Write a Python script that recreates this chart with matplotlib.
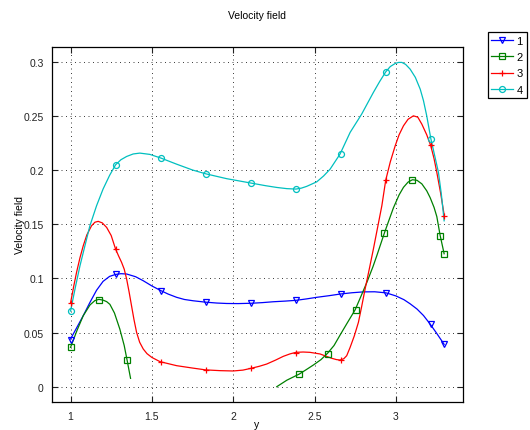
import matplotlib
matplotlib.use("Agg")
import matplotlib.pyplot as plt

plt.rcParams['font.family'] = ['Liberation Sans', 'DejaVu Sans']

# ---- data ----
# series 1 (blue)
x1 = [1.0, 1.04, 1.078, 1.12, 1.16, 1.2, 1.24, 1.277, 1.31, 1.345, 1.4, 1.447, 1.5, 1.556, 1.6,
      1.652, 1.7, 1.754, 1.831, 1.9, 1.96, 2.03, 2.111, 2.18, 2.247, 2.32, 2.386, 2.45, 2.514,
      2.59, 2.657, 2.73, 2.8, 2.87, 2.94, 3.0, 3.05, 3.088, 3.13, 3.17, 3.211, 3.25, 3.297]
y1 = [0.044, 0.055, 0.0655, 0.078, 0.089, 0.0972, 0.1018, 0.1036, 0.1043, 0.104, 0.1015, 0.0978,
      0.093, 0.0886, 0.0855, 0.0825, 0.0805, 0.0793, 0.0780, 0.0772, 0.0768, 0.0767, 0.0770,
      0.0776, 0.0784, 0.0790, 0.0797, 0.0810, 0.0825, 0.0840, 0.0855, 0.0867, 0.0875, 0.0876,
      0.0866, 0.0838, 0.0803, 0.0765, 0.0717, 0.0657, 0.0578, 0.0495, 0.0391]
mx1 = [1.0, 1.277, 1.556, 1.831, 2.111, 2.386, 2.66, 2.938, 3.215, 3.297]
my1 = [0.0434, 0.1037, 0.0883, 0.0779, 0.0769, 0.0800, 0.0852, 0.0864, 0.0578, 0.039]

# series 2 (green), two visible pieces
x2a = [1.0, 1.04, 1.078, 1.12, 1.15, 1.174, 1.2, 1.222, 1.242, 1.27, 1.303, 1.33, 1.348, 1.369]
y2a = [0.0363, 0.052, 0.0655, 0.0755, 0.0795, 0.0806, 0.0799, 0.0785, 0.0760, 0.068, 0.0532,
       0.038, 0.0243, 0.0077]
x2b = [2.268, 2.33, 2.407, 2.45, 2.493, 2.54, 2.58, 2.62, 2.657, 2.7, 2.75, 2.79, 2.822, 2.86,
       2.883, 2.93, 2.985, 3.02, 3.047, 3.075, 3.102, 3.13, 3.16, 3.19, 3.211, 3.235, 3.252,
       3.272, 3.297]
y2b = [0.0, 0.006, 0.0117, 0.0158, 0.020, 0.025, 0.0308, 0.038, 0.0476, 0.0585, 0.071, 0.085,
       0.0963, 0.111, 0.1209, 0.142, 0.165, 0.177, 0.184, 0.1888, 0.191, 0.1905, 0.1872, 0.1808,
       0.1745, 0.1655, 0.1570, 0.1400, 0.1227]
mx2 = [1.0, 1.174, 1.348, 2.407, 2.58, 2.754, 2.93, 3.102, 3.272, 3.297]
my2 = [0.0363, 0.0803, 0.0243, 0.0117, 0.0303, 0.071, 0.1418, 0.191, 0.1393, 0.1227]

# series 3 (red)
x3 = [1.0, 1.02, 1.037, 1.058, 1.078, 1.1, 1.129, 1.15, 1.17, 1.195, 1.222, 1.25, 1.277, 1.296,
      1.314, 1.33, 1.345, 1.36, 1.375, 1.39, 1.406, 1.425, 1.447, 1.47, 1.5, 1.55, 1.652, 1.75,
      1.831, 1.92, 2.0, 2.06, 2.111, 2.16, 2.206, 2.26, 2.308, 2.35, 2.386, 2.43, 2.472, 2.534,
      2.606, 2.635, 2.657, 2.68, 2.698, 2.719, 2.745, 2.77, 2.79, 2.811, 2.836, 2.862, 2.888,
      2.914, 2.938, 2.966, 2.996, 3.02, 3.047, 3.075, 3.108, 3.135, 3.16, 3.19, 3.215, 3.235,
      3.252, 3.275, 3.297]
y3 = [0.0772, 0.093, 0.1055, 0.119, 0.130, 0.140, 0.1485, 0.1518, 0.1526, 0.1512, 0.147,
      0.1395, 0.127, 0.1205, 0.1147, 0.1085, 0.0993, 0.0875, 0.0747, 0.0620, 0.0502, 0.0410,
      0.0348, 0.0305, 0.027, 0.0231, 0.0194, 0.0172, 0.0155, 0.0148, 0.0145, 0.0153, 0.017,
      0.0188, 0.0209, 0.0245, 0.028, 0.0303, 0.0317, 0.0320, 0.0317, 0.0302, 0.0262, 0.0250,
      0.0246, 0.0258, 0.0286, 0.0363, 0.0470, 0.0594, 0.0740, 0.0901, 0.108, 0.127, 0.147,
      0.167, 0.1907, 0.2075, 0.2223, 0.2325, 0.2408, 0.2468, 0.25, 0.2488, 0.2423, 0.2325,
      0.2223, 0.2105, 0.1978, 0.1790, 0.1587]
mx3 = [1.0, 1.277, 1.556, 1.831, 2.111, 2.386, 2.66, 2.938, 3.215, 3.297]
my3 = [0.0772, 0.1273, 0.023, 0.0157, 0.017, 0.0308, 0.0249, 0.1907, 0.2232, 0.158]

# series 4 (cyan)
x4 = [1.0, 1.03, 1.058, 1.09, 1.119, 1.16, 1.2, 1.24, 1.277, 1.31, 1.345, 1.385, 1.426, 1.488,
      1.556, 1.652, 1.75, 1.831, 1.96, 2.111, 2.2, 2.268, 2.33, 2.386, 2.42, 2.452, 2.514,
      2.556, 2.596, 2.657, 2.719, 2.79, 2.862, 2.9, 2.938, 2.966, 2.996, 3.017, 3.037, 3.06,
      3.088, 3.12, 3.15, 3.17, 3.19, 3.215, 3.24, 3.262, 3.28, 3.297]
y4 = [0.0698, 0.092, 0.1116, 0.131, 0.1485, 0.167, 0.1824, 0.195, 0.2048, 0.2095, 0.2125,
      0.2148, 0.2156, 0.2144, 0.211, 0.2054, 0.200, 0.1965, 0.192, 0.1879, 0.1855, 0.1839,
      0.1828, 0.1824, 0.1833, 0.1849, 0.1891, 0.1945, 0.2008, 0.2147, 0.2347, 0.2516, 0.2716,
      0.2815, 0.2906, 0.2955, 0.2983, 0.2993, 0.2993, 0.2975, 0.2931, 0.2855, 0.2746, 0.2640,
      0.2500, 0.2291, 0.2125, 0.1978, 0.1775, 0.1531]
mx4 = [1.0, 1.277, 1.556, 1.831, 2.111, 2.386, 2.66, 2.938, 3.215]
my4 = [0.0698, 0.2045, 0.211, 0.1965, 0.1876, 0.1827, 0.2144, 0.2906, 0.2285]

labels = ['1', '2', '3', '4']
colors = ['#0000ff', '#008000', '#ff0000', '#00bfbf']
markers = ['v', 's', '+', 'o']

xticks = [1, 1.5, 2, 2.5, 3]
xticklabels = ['1', '1.5', '2', '2.5', '3']
yticks = [0, 0.05, 0.1, 0.15, 0.2, 0.25, 0.3]
yticklabels = ['0', '0.05', '0.1', '0.15', '0.2', '0.25', '0.3']

FS = 7.5

fig = plt.figure(figsize=(5.30, 4.31), dpi=100)
ax = fig.add_axes([0.0981, 0.0643, 0.7761, 0.825])

lw = 0.9
ms = 4.3
series = [([(x1, y1)], (mx1, my1)),
          ([(x2a, y2a), (x2b, y2b)], (mx2, my2)),
          ([(x3, y3)], (mx3, my3)),
          ([(x4, y4)], (mx4, my4))]
handles = []
for (lines, (mx, my)), c, m, lab in zip(series, colors, markers, labels):
    for (lx, ly) in lines:
        ax.plot(lx, ly, color=c, lw=lw, zorder=3)
    ax.plot(mx, my, linestyle='none', marker=m, markersize=ms, markerfacecolor='none',
            markeredgecolor=c, markeredgewidth=0.9, zorder=4)
    h, = ax.plot([], [], color=c, lw=lw, marker=m, markersize=ms, markerfacecolor='none',
                 markeredgecolor=c, markeredgewidth=0.9, label=lab)
    handles.append(h)

ax.set_xlim(0.886, 3.415)
ax.set_ylim(-0.0144, 0.3138)
ax.set_xticks(xticks)
ax.set_xticklabels(xticklabels)
ax.set_yticks(yticks)
ax.set_yticklabels(yticklabels)
ax.tick_params(direction='in', length=4, width=0.8, top=True, right=True,
               labelsize=FS, colors='#222222', pad=6)
ax.grid(True, color='#444444', linestyle=(0, (1, 3.5)), linewidth=0.72)
for s in ax.spines.values():
    s.set_linewidth(0.9)
    s.set_color('black')

fig.text(0.485, 1 - 16 / 431, 'Velocity field', ha='center', va='center', fontsize=FS)
fig.text(0.485, 1 - 425 / 431, 'y', ha='center', va='center', fontsize=FS)
fig.text(20 / 530, 1 - 225.5 / 431, 'Velocity field', ha='center', va='center',
         rotation=90, fontsize=FS)

leg = fig.legend(handles=handles, loc='upper left',
                 bbox_to_anchor=(487.5 / 530, 1 - 33.3 / 431),
                 fontsize=FS + 0.5, frameon=True, fancybox=False, framealpha=1,
                 edgecolor='black', borderpad=0.35, handlelength=1.95,
                 handletextpad=0.3, labelspacing=0.55, borderaxespad=0)
leg.get_frame().set_linewidth(0.9)

fig.savefig('out.png', dpi=100)
